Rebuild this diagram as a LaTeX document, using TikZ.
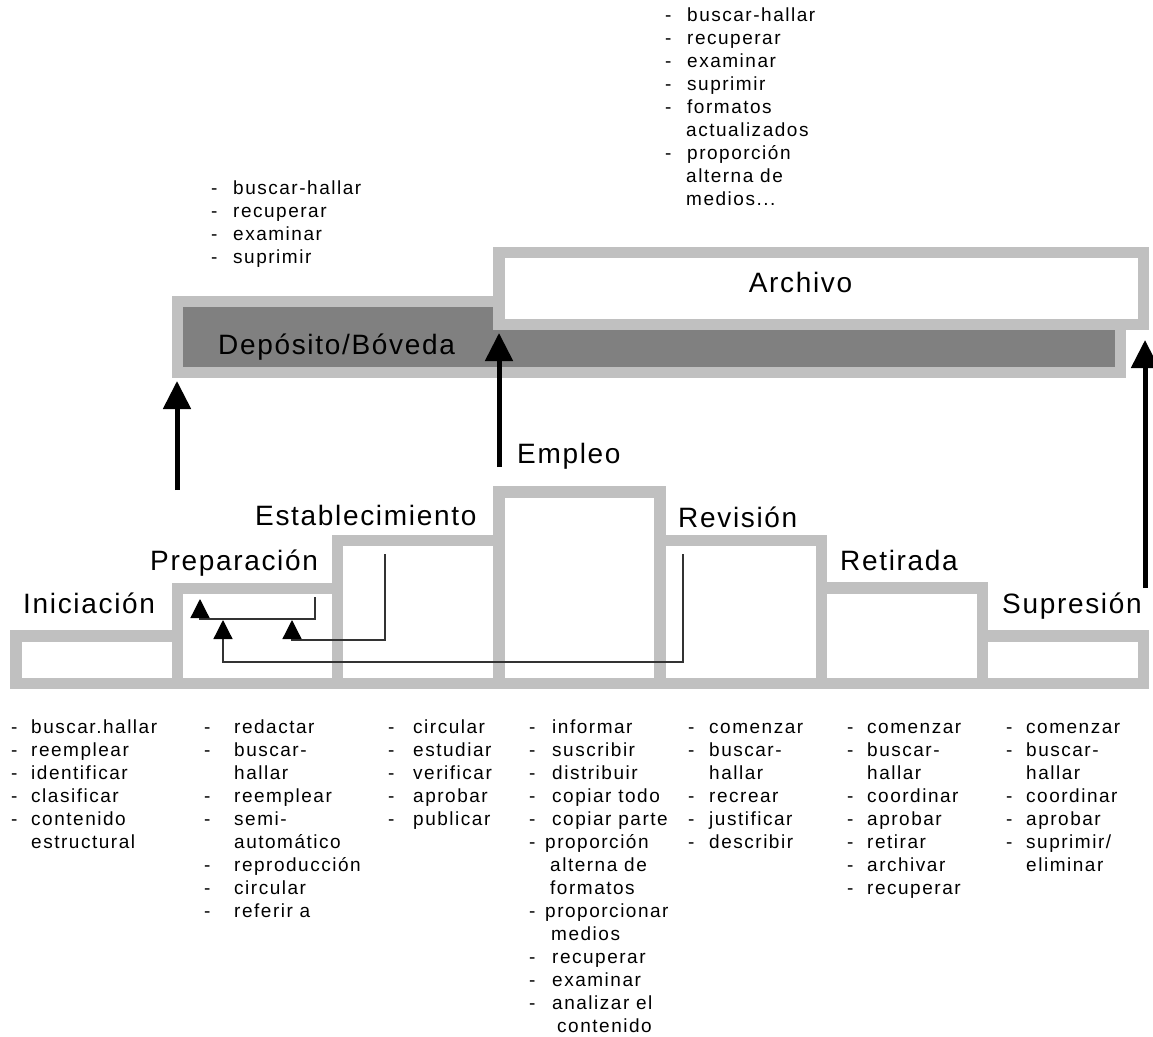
\documentclass[tikz,border=0pt]{standalone}
\usepackage{fontspec}
\setmainfont{Liberation Sans}
\newfontfamily\spacedlab[LetterSpace=6]{Liberation Sans}
\newfontfamily\spacedlist[LetterSpace=8]{Liberation Sans}
\usetikzlibrary{arrows.meta}

\definecolor{framegray}{HTML}{C0C0C0}
\definecolor{vaultgray}{HTML}{808080}
\definecolor{thinline}{HTML}{333333}

% one list entry: dash in a box of width #1, then the text
\newcommand\itemline[2]{\hbox{\makebox[#1][l]{-}#2}}
% continuation line of an entry, indented by #1
\newcommand\contline[2]{\hbox{\hspace*{#1}#2}}

\begin{document}
\begin{tikzpicture}[x=1pt,y=-1pt,
  frame/.style={draw=framegray,line width=11.5pt},
  stagelab/.style={inner sep=0pt,anchor=base west,font=\spacedlab\fontsize{28}{32}\selectfont},
  lst/.style={inner sep=0pt,anchor=base west,font=\spacedlist\fontsize{19}{23}\selectfont},
  bigarrow/.style={line width=5pt,-{Triangle[width=27pt,length=28pt]}},
  thinarrow/.style={draw=thinline,line width=1.3pt,-{Triangle[width=19pt,length=19pt,color=black]}}]

\useasboundingbox (0,0) rectangle (1153,1036);
\fill[white] (0,0) rectangle (1153,1036);

% life-cycle steps
\foreach \xa/\xb/\yt in {16/177.5/636, 177.5/337.5/588.5, 337.5/499/540.5,
    499/660/492, 660/821.5/540.5, 821.5/982.5/588, 982.5/1143.5/636}
  \draw[frame] (\xa,\yt) rectangle (\xb,683.5);

% storage bands
\draw[frame,fill=vaultgray] (177.5,301.5) rectangle (1120.5,372.5);
\draw[frame,fill=white] (499,252.5) rectangle (1143.5,324.5);

% stage labels
\node[stagelab] (tini) at (23,613) {Iniciación};
\node[stagelab] (tpre) at (150,570) {Preparación};
\node[stagelab] (test) at (255,525) {Establecimiento};
\node[stagelab] (temp) at (517,463) {Empleo};
\node[stagelab] (trev) at (678,527) {Revisión};
\node[stagelab] (tret) at (840,570) {Retirada};
\node[stagelab] (tsup) at (1002,613) {Supresión};
\node[stagelab] (tdep) at (218,354) {Depósito/Bóveda};
\node[stagelab,anchor=base] (tarc) at (800.5,292) {Archivo};

% transfer arrows into storage
\coordinate (u1a) at (177,490);  \coordinate (u1b) at (177,381);
\coordinate (u2a) at (499,467);  \coordinate (u2b) at (499,333);
\coordinate (u3a) at (1145,588); \coordinate (u3b) at (1145,340);
\draw[bigarrow] (u1a) -- (u1b);
\draw[bigarrow] (u2a) -- (u2b);
\draw[bigarrow] (u3a) -- (u3b);

% feedback loops back to preparation
\coordinate (f1s) at (315,597); \coordinate (f1c) at (315,619);
\coordinate (f1d) at (200,619); \coordinate (f1t) at (200,599);
\coordinate (f2s) at (385,554); \coordinate (f2c) at (385,640);
\coordinate (f2d) at (292,640); \coordinate (f2t) at (292,620);
\coordinate (f3s) at (683,554); \coordinate (f3c) at (683,662);
\coordinate (f3d) at (223,662); \coordinate (f3t) at (223,620);
\draw[thinarrow] (f1s) -- (f1c) -- (f1d) -- (f1t);
\draw[thinarrow] (f2s) -- (f2c) -- (f2d) -- (f2t);
\draw[thinarrow] (f3s) -- (f3c) -- (f3d) -- (f3t);

% storage activities
\node[lst] (lvault) at (211,194) {\vtop{%
  \itemline{22pt}{buscar-hallar}\itemline{22pt}{recuperar}%
  \itemline{22pt}{examinar}\itemline{22pt}{suprimir}}};
\node[lst] (larch) at (665,21) {\vtop{%
  \itemline{22pt}{buscar-hallar}\itemline{22pt}{recuperar}%
  \itemline{22pt}{examinar}\itemline{22pt}{suprimir}%
  \itemline{22pt}{formatos}\contline{21pt}{actualizados}%
  \itemline{22pt}{proporción}\contline{21pt}{alterna de}%
  \contline{21pt}{medios...}}};

% step activities
\node[lst] (lini) at (11,733) {\vtop{%
  \itemline{20pt}{buscar.hallar}\itemline{20pt}{reemplear}%
  \itemline{20pt}{identificar}\itemline{20pt}{clasificar}%
  \itemline{20pt}{contenido}\contline{20pt}{estructural}}};
\node[lst] (lpre) at (204,733) {\vtop{%
  \itemline{30pt}{redactar}\itemline{30pt}{buscar-}\contline{30pt}{hallar}%
  \itemline{30pt}{reemplear}\itemline{30pt}{semi-}\contline{30pt}{automático}%
  \itemline{30pt}{reproducción}\itemline{30pt}{circular}%
  \itemline{30pt}{referir a}}};
\node[lst] (lest) at (388,733) {\vtop{%
  \itemline{25pt}{circular}\itemline{25pt}{estudiar}%
  \itemline{25pt}{verificar}\itemline{25pt}{aprobar}%
  \itemline{25pt}{publicar}}};
\node[lst] (lemp) at (529,733) {\vtop{%
  \itemline{23pt}{informar}\itemline{23pt}{suscribir}%
  \itemline{23pt}{distribuir}\itemline{23pt}{copiar todo}%
  \itemline{23pt}{copiar parte}%
  \itemline{16pt}{proporción}\contline{21pt}{alterna de}\contline{21pt}{formatos}%
  \itemline{16pt}{proporcionar}\contline{22pt}{medios}%
  \itemline{23pt}{recuperar}\itemline{23pt}{examinar}%
  \itemline{23pt}{analizar el}\contline{28pt}{contenido}}};
\node[lst] (lrev) at (688,733) {\vtop{%
  \itemline{21pt}{comenzar}\itemline{21pt}{buscar-}\contline{21pt}{hallar}%
  \itemline{21pt}{recrear}\itemline{21pt}{justificar}%
  \itemline{21pt}{describir}}};
\node[lst] (lret) at (847,733) {\vtop{%
  \itemline{20pt}{comenzar}\itemline{20pt}{buscar-}\contline{20pt}{hallar}%
  \itemline{20pt}{coordinar}\itemline{20pt}{aprobar}%
  \itemline{20pt}{retirar}\itemline{20pt}{archivar}%
  \itemline{20pt}{recuperar}}};
\node[lst] (lsup) at (1006,733) {\vtop{%
  \itemline{20pt}{comenzar}\itemline{20pt}{buscar-}\contline{20pt}{hallar}%
  \itemline{20pt}{coordinar}\itemline{20pt}{aprobar}%
  \itemline{20pt}{suprimir/}\contline{20pt}{eliminar}}};

\end{tikzpicture}
\end{document}
